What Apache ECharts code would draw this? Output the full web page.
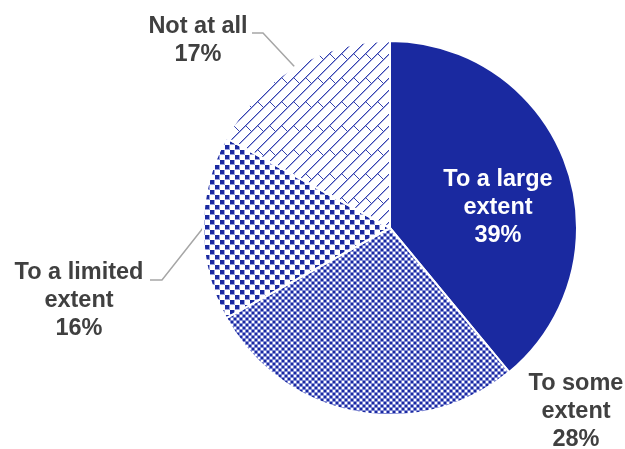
<!DOCTYPE html>
<html>
<head>
<meta charset="utf-8">
<script src="https://cdn.jsdelivr.net/npm/echarts@6/dist/echarts.min.js"></script>
<style>html,body{margin:0;padding:0;background:#fff}#c{width:625px;height:449px}</style>
</head>
<body>
<div id="c"></div>
<script>
const categories = ['To a large\nextent', 'To some\nextent', 'To a limited\nextent', 'Not at all'];
const values = [39, 28, 16, 17];

const BLUE = '#1a29a0';
function tile(w, h, draw) {
  const c = document.createElement('canvas');
  c.width = w; c.height = h;
  const g = c.getContext('2d');
  g.fillStyle = '#ffffff'; g.fillRect(0, 0, w, h);
  draw(g);
  return { image: c, repeat: 'repeat' };
}
// checker/plaid pattern
const patSome = tile(6, 6, g => {
  g.fillStyle = '#8089d3';
  g.fillRect(2, 0, 1, 6); g.fillRect(5, 0, 1, 6);
  g.fillRect(0, 2, 6, 1); g.fillRect(0, 5, 6, 1);
  g.fillStyle = BLUE;
  g.fillRect(0, 0, 2, 2); g.fillRect(3, 3, 2, 2);
});
// staggered squares
const patLimited = tile(10, 10, g => {
  g.fillStyle = '#9aa1dd';
  g.fillRect(0, 0, 5, 5); g.fillRect(5, 5, 5, 5);
  g.fillStyle = BLUE;
  g.fillRect(0, 0, 4, 4); g.fillRect(5, 5, 4, 4);
});
// diagonal brick (shingle) pattern
const patNot = tile(24, 24, g => {
  const px = (x, y, col) => { g.fillStyle = col; g.fillRect(((x % 24) + 24) % 24, ((y % 24) + 24) % 24, 1, 1); };
  for (let x = 0; x < 24; x++) for (let y = 0; y < 24; y++) {
    if ((x + y) % 12 === 11) px(x, y, '#a3a9e0');
  }
  for (let x = 0; x < 24; x++) for (let y = 0; y < 24; y++) {
    if ((x + y) % 12 === 10) px(x, y, '#3441ad');
  }
  for (let t = 1; t <= 5; t++) {
    px(5 + t, 5 + t, '#3441ad');
    px(17 + t, 5 + t, '#3441ad');
  }
});
const fills = [BLUE, patSome, patLimited, patNot];

const labelPos = [
  { x: 498, y: 208 },
  { x: 576, y: 412 },
  { x: 79, y: 301, bend: [[162, 280], [150, 280]] },
  { x: 198, y: 41, bend: [[263, 33], [252, 33]] }
];

const chart = echarts.init(document.getElementById('c'), null, { renderer: 'canvas' });
chart.setOption({
  animation: false,
  series: [{
    type: 'pie',
    center: [390, 228],
    radius: 187,
    startAngle: 90,
    clockwise: true,
    avoidLabelOverlap: false,
    itemStyle: { borderColor: '#ffffff', borderWidth: 2 },
    label: {
      show: true,
      position: 'outside',
      formatter: '{b}\n{c}%',
      color: '#404040',
      fontFamily: 'Liberation Sans, Arial, sans-serif',
      fontWeight: 'bold',
      fontSize: 23.5,
      lineHeight: 28,
      align: 'center'
    },
    labelLine: { show: true, lineStyle: { color: '#a6a6a6', width: 1.5 } },
    labelLayout: function (p) {
      const lp = labelPos[p.dataIndex];
      const out = { x: lp.x, y: lp.y, align: 'center', verticalAlign: 'middle' };
      if (lp.bend && p.labelLinePoints) {
        out.labelLinePoints = [p.labelLinePoints[0]].concat(lp.bend);
      }
      return out;
    },
    data: categories.map((n, i) => ({
      name: n,
      value: values[i],
      itemStyle: { color: fills[i] },
      label: i === 0 ? { color: '#ffffff' } : {},
      labelLine: { show: i >= 2 }
    }))
  }]
});
</script>
</body>
</html>
